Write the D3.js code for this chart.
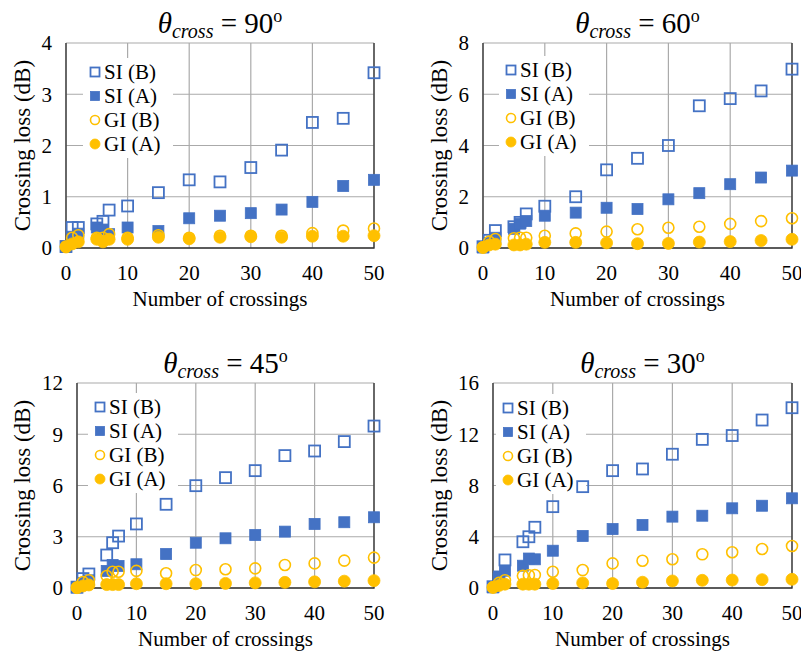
<!DOCTYPE html>
<html>
<head>
<meta charset="utf-8">
<script src="https://cdn.jsdelivr.net/npm/d3@7"></script>
<style>
  body { margin: 0; background: #fff; }
</style>
</head>
<body>
<div id="chart"></div>
<script>
// number of crossings (x values shared by all series)
var crossings = [0, 1, 2, 5, 6, 7, 10, 15, 20, 25, 30, 35, 40, 45, 50];
var seriesNames = ["SI (B)", "SI (A)", "GI (B)", "GI (A)"];
var angles = ["90", "60", "45", "30"];
var yMaxes = [4, 8, 12, 16];
var yTickSteps = [1, 2, 3, 4];

// theta = 90
var siB_90 = [0.03, 0.40, 0.40, 0.47, 0.52, 0.74, 0.82, 1.08, 1.33, 1.29, 1.57, 1.91, 2.45, 2.53, 3.42];
var siA_90 = [0.02, 0.22, 0.28, 0.40, 0.36, 0.27, 0.40, 0.33, 0.58, 0.63, 0.68, 0.75, 0.90, 1.21, 1.33];
var giB_90 = [0.03, 0.20, 0.25, 0.20, 0.20, 0.27, 0.20, 0.25, 0.20, 0.24, 0.24, 0.24, 0.29, 0.34, 0.38];
var giA_90 = [0.02, 0.08, 0.12, 0.17, 0.12, 0.17, 0.17, 0.21, 0.18, 0.21, 0.22, 0.21, 0.23, 0.23, 0.24];

// theta = 60
var siB_60 = [0.05, 0.30, 0.68, 0.83, 1.00, 1.33, 1.63, 2.00, 3.05, 3.50, 4.00, 5.55, 5.83, 6.13, 6.98];
var siA_60 = [0.02, 0.20, 0.40, 0.75, 0.95, 1.05, 1.26, 1.38, 1.57, 1.52, 1.90, 2.14, 2.49, 2.75, 3.02];
var giB_60 = [0.03, 0.25, 0.35, 0.38, 0.40, 0.40, 0.48, 0.57, 0.64, 0.73, 0.79, 0.83, 0.94, 1.05, 1.16];
var giA_60 = [0.02, 0.12, 0.15, 0.12, 0.12, 0.15, 0.22, 0.22, 0.20, 0.17, 0.18, 0.23, 0.25, 0.29, 0.34];

// theta = 45
var siB_45 = [0.05, 0.55, 0.82, 1.93, 2.65, 3.04, 3.75, 4.90, 5.99, 6.46, 6.87, 7.75, 8.02, 8.57, 9.48];
var siA_45 = [0.03, 0.30, 0.45, 1.00, 1.35, 1.29, 1.39, 1.99, 2.65, 2.91, 3.10, 3.30, 3.75, 3.85, 4.14];
var giB_45 = [0.03, 0.35, 0.45, 0.70, 0.95, 0.95, 1.00, 0.86, 1.05, 1.10, 1.15, 1.35, 1.44, 1.60, 1.78];
var giA_45 = [0.02, 0.12, 0.18, 0.20, 0.20, 0.20, 0.25, 0.25, 0.25, 0.27, 0.30, 0.33, 0.36, 0.40, 0.43];

// theta = 30
var siB_30 = [0.10, 0.70, 2.19, 3.61, 4.00, 4.74, 6.35, 7.91, 9.16, 9.29, 10.44, 11.60, 11.90, 13.11, 14.07];
var siA_30 = [0.05, 0.90, 1.35, 1.74, 2.30, 2.24, 2.91, 4.06, 4.60, 4.92, 5.57, 5.64, 6.22, 6.42, 7.00];
var giB_30 = [0.05, 0.40, 0.60, 0.95, 1.00, 1.02, 1.27, 1.40, 1.92, 2.13, 2.24, 2.63, 2.79, 3.04, 3.28];
var giA_30 = [0.05, 0.20, 0.30, 0.30, 0.30, 0.30, 0.35, 0.40, 0.35, 0.45, 0.55, 0.60, 0.62, 0.65, 0.68];

var blue = "#4472C4", gold = "#FFC000";
var serif = "'Liberation Serif', 'DejaVu Serif', serif";
var styles = [
  { shape: "square", fill: "none", stroke: blue },
  { shape: "square", fill: blue, stroke: blue },
  { shape: "circle", fill: "none", stroke: gold },
  { shape: "circle", fill: gold, stroke: gold }
];

// plot areas, in page pixels
var panels = [
  { left: 66,  right: 374, top: 43,  bottom: 248, ytx: 30,  lgx: 29, lgy: 29, series: [siB_90, siA_90, giB_90, giA_90] },
  { left: 483, right: 792, top: 43,  bottom: 248, ytx: 447, lgx: 28, lgy: 27, series: [siB_60, siA_60, giB_60, giA_60] },
  { left: 77,  right: 374, top: 383, bottom: 588, ytx: 30,  lgx: 23, lgy: 24, series: [siB_45, siA_45, giB_45, giA_45] },
  { left: 493, right: 792, top: 383, bottom: 588, ytx: 447, lgx: 15, lgy: 25, series: [siB_30, siA_30, giB_30, giA_30] }
];

var svg = d3.select("#chart").append("svg")
  .attr("width", 801)
  .attr("height", 654)
  .attr("font-family", serif);

function drawMarker(g, st, cx, cy, big) {
  if (st.shape == "square") {
    var s = big ? 11 : 9;
    g.append("rect")
      .attr("x", cx - s / 2).attr("y", cy - s / 2)
      .attr("width", s).attr("height", s)
      .attr("fill", st.fill)
      .attr("stroke", st.stroke)
      .attr("stroke-width", st.fill == "none" ? 1.8 : 0.8);
  } else {
    var r = big ? 6 : 5;
    g.append("circle")
      .attr("cx", cx).attr("cy", cy).attr("r", st.fill == "none" ? r - 0.5 : r)
      .attr("fill", st.fill)
      .attr("stroke", st.stroke)
      .attr("stroke-width", st.fill == "none" ? 1.6 : 0.8);
  }
}

panels.forEach(function(p, i) {
  var g = svg.append("g");
  var x = d3.scaleLinear().domain([0, 50]).range([p.left, p.right]);
  var y = d3.scaleLinear().domain([0, yMaxes[i]]).range([p.bottom, p.top]);
  var yTicks = d3.range(0, yMaxes[i] + 0.001, yTickSteps[i]);
  var xTicks = d3.range(0, 51, 10);

  // gridlines
  g.selectAll(".hg").data(yTicks).enter().append("line")
    .attr("x1", p.left).attr("x2", p.right)
    .attr("y1", function(d) { return y(d); }).attr("y2", function(d) { return y(d); })
    .attr("stroke", "#aaaaaa").attr("stroke-width", 1.2);
  g.selectAll(".vg").data(xTicks).enter().append("line")
    .attr("y1", p.top).attr("y2", p.bottom)
    .attr("x1", function(d) { return x(d); }).attr("x2", function(d) { return x(d); })
    .attr("stroke", "#aaaaaa").attr("stroke-width", 1.2);

  // frame: left, bottom and right edges dark
  g.append("path")
    .attr("d", "M" + p.left + "," + p.top + "V" + p.bottom + "H" + p.right + "V" + p.top)
    .attr("fill", "none").attr("stroke", "#333").attr("stroke-width", 1.3);

  // tick labels
  g.selectAll(".yl").data(yTicks).enter().append("text")
    .attr("x", p.left - 14).attr("y", function(d) { return y(d); })
    .attr("dy", "0.35em").attr("text-anchor", "end")
    .style("font-size", "21px")
    .text(function(d) { return d; });
  g.selectAll(".xl").data(xTicks).enter().append("text")
    .attr("x", function(d) { return x(d); }).attr("y", p.bottom + 32)
    .attr("text-anchor", "middle")
    .style("font-size", "21px")
    .text(function(d) { return d; });

  // axis titles
  g.append("text")
    .attr("transform", "translate(" + p.ytx + "," + ((p.top + p.bottom) / 2) + ") rotate(-90)")
    .attr("text-anchor", "middle")
    .style("font-size", "23px")
    .text("Crossing loss (dB)");
  g.append("text")
    .attr("x", (p.left + p.right) / 2).attr("y", p.bottom + 58)
    .attr("text-anchor", "middle")
    .style("font-size", "21px")
    .text("Number of crossings");

  // title
  var t = g.append("text")
    .attr("x", (p.left + p.right) / 2).attr("y", p.top - 10)
    .attr("text-anchor", "middle")
    .style("font-size", "29px");
  t.append("tspan").style("font-style", "italic").text("\u03b8");
  t.append("tspan").style("font-style", "italic").style("font-size", "20px").attr("dy", 5).text("cross");
  t.append("tspan").attr("dy", -5).text(" = " + angles[i]);
  t.append("tspan").style("font-size", "18px").attr("dy", -11).text("o");

  // legend box (white, hides gridlines)
  var lx = p.left + p.lgx, ly = p.top + p.lgy;
  g.append("rect")
    .attr("x", lx - 12).attr("y", ly - 14)
    .attr("width", 90).attr("height", 100)
    .attr("fill", "#fff");

  // data points
  p.series.forEach(function(vals, si) {
    var sg = g.append("g");
    vals.forEach(function(v, k) {
      drawMarker(sg, styles[si], x(crossings[k]), y(v), true);
    });
  });

  // legend entries
  seriesNames.forEach(function(name, si) {
    var cy = ly + si * 24;
    drawMarker(g, styles[si], lx, cy, false);
    g.append("text")
      .attr("x", lx + 9).attr("y", cy).attr("dy", "0.35em")
      .style("font-size", "21px")
      .text(name);
  });
});
</script>
</body>
</html>
